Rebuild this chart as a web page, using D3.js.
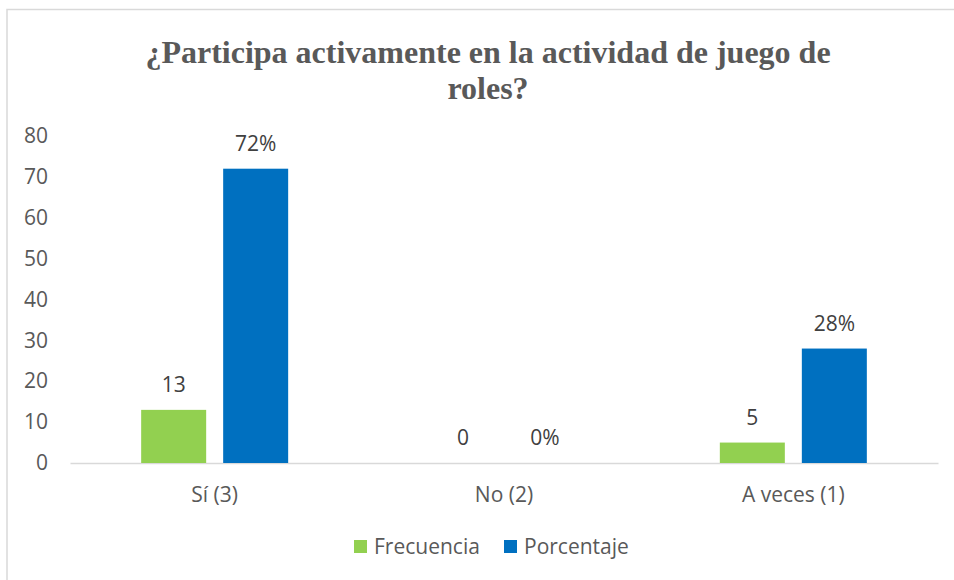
<!DOCTYPE html>
<meta charset="utf-8">
<style>
	body { margin: 0; background: #fff; }
	svg { display: block; }
</style>
<body>
	<script src="https://d3js.org/d3.v7.min.js"></script>
	<script>
		var categories = ["Sí (3)", "No (2)", "A veces (1)"];
		var frecuencia = [13, 0, 5];
		var porcentaje = [72, 0, 28];
		var pctLabels = ["72%", "0%", "28%"];
		var yTicks = [0, 10, 20, 30, 40, 50, 60, 70, 80];
		var seriesNames = ["Frecuencia", "Porcentaje"];
		var seriesColors = ["#92d050", "#0070c0"];

		var width = 954, height = 580;
		var plot = {left: 70, right: 938, top: 136, bottom: 463};
		var textColor = "#595959";
		var labelFont = "'Open Sans', 'Noto Sans', sans-serif";
		var fontSize = 21;

		var svg = d3.select("body").append("svg")
			.attr("width", width)
			.attr("height", height);

		// chart frame (only top and left edges are visible)
		svg.append("rect")
			.attr("x", 7).attr("y", 9.5)
			.attr("width", 960).attr("height", 600)
			.attr("fill", "white")
			.attr("stroke", "#d9d9d9")
			.attr("stroke-width", 1.5);

		// title
		var title = svg.append("text")
			.attr("text-anchor", "middle")
			.attr("fill", textColor)
			.attr("font-family", "'Liberation Serif', 'DejaVu Serif', serif")
			.attr("font-weight", "bold")
			.attr("font-size", "32px");
		title.append("tspan").attr("x", 488).attr("y", 63).text("¿Participa activamente en la actividad de juego de");
		title.append("tspan").attr("x", 488).attr("y", 99).text("roles?");

		var x = d3.scaleBand()
			.domain(categories)
			.range([plot.left, plot.right]);

		var y = d3.scaleLinear()
			.domain([0, 80])
			.range([plot.bottom, plot.top]);

		var barWidth = 65, barGap = 17;
		var groupWidth = barWidth * 2 + barGap;
		var barX = function(cat, s) {
			return x(cat) + x.bandwidth() / 2 - groupWidth / 2 + s * (barWidth + barGap);
		};

		// y axis labels
		var yAxis = d3.axisLeft(y).tickValues(yTicks).tickSize(0).tickPadding(0);
		var gy = svg.append("g")
			.attr("transform", "translate(48,0)")
			.call(yAxis);
		gy.select(".domain").remove();
		gy.selectAll("text")
			.attr("fill", textColor)
			.attr("font-size", fontSize + "px")
			.attr("font-family", labelFont);

		// x axis
		var xAxis = d3.axisBottom(x).tickSize(0).tickPadding(24);
		var gx = svg.append("g")
			.attr("transform", "translate(0," + plot.bottom + ")")
			.call(xAxis);
		gx.select(".domain")
			.attr("stroke", "#d9d9d9")
			.attr("stroke-width", 1.5);
		gx.selectAll("text")
			.attr("fill", textColor)
			.attr("font-size", fontSize + "px")
			.attr("font-family", labelFont);

		var series = [frecuencia, porcentaje];
		var labels = [frecuencia.map(String), pctLabels];

		series.forEach(function(values, s) {
			svg.selectAll("rect.bar" + s)
				.data(values)
				.enter()
				.append("rect")
				.attr("class", "bar" + s)
				.attr("x", function(d, i) { return barX(categories[i], s); })
				.attr("y", function(d) { return y(d); })
				.attr("width", barWidth)
				.attr("height", function(d) { return y(0) - y(d); })
				.attr("fill", seriesColors[s]);

			svg.selectAll("text.lbl" + s)
				.data(values)
				.enter()
				.append("text")
				.attr("class", "lbl" + s)
				.text(function(d, i) { return labels[s][i]; })
				.attr("x", function(d, i) { return barX(categories[i], s) + barWidth / 2; })
				.attr("y", function(d) { return y(d) - 18; })
				.attr("text-anchor", "middle")
				.attr("fill", "#404040")
				.attr("font-size", fontSize + "px")
				.attr("font-family", labelFont);
		});

		// legend
		var legendX = [354, 504];
		seriesNames.forEach(function(name, s) {
			svg.append("rect")
				.attr("x", legendX[s]).attr("y", 540)
				.attr("width", 13).attr("height", 13)
				.attr("fill", seriesColors[s]);
			svg.append("text")
				.attr("x", legendX[s] + 20).attr("y", 554)
				.text(name)
				.attr("fill", textColor)
				.attr("font-size", fontSize + "px")
				.attr("font-family", labelFont);
		});
	</script>
</body>
